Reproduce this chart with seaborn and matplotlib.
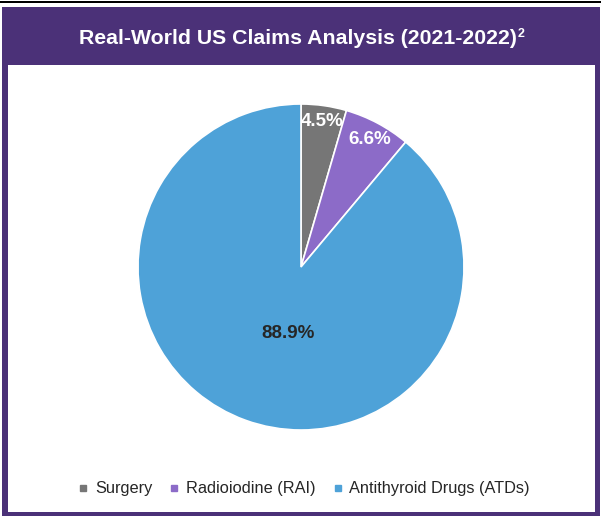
import matplotlib
matplotlib.use("Agg")
import matplotlib.pyplot as plt
import seaborn as sns
import numpy as np
from matplotlib.patches import Rectangle
from matplotlib.lines import Line2D

categories = ["Surgery", "Radioiodine (RAI)", "Antithyroid Drugs (ATDs)"]
values = [4.5, 6.6, 88.9]
colors = ["#767676", "#8C6BC8", "#4EA2D8"]
title = "Real-World US Claims Analysis (2021-2022)"
title_sup = "2"

sns.set_theme(style="white")
plt.rcParams["font.family"] = ["Liberation Sans", "DejaVu Sans"]

W, H = 603, 516
fig = plt.figure(figsize=(W / 100, H / 100), dpi=100)
fig.patch.set_facecolor("white")

purple = "#4B3178"
def px_rect(x0, y0, x1, y1, color, z):
    fig.patches.append(Rectangle((x0 / W, 1 - y1 / H), (x1 - x0) / W, (y1 - y0) / H,
                                 transform=fig.transFigure, facecolor=color,
                                 edgecolor="none", zorder=z))

# black top rule
px_rect(0, 1, 601, 3, "black", 0)
# purple frame
px_rect(2, 7, 600, 516, purple, 0)
# white inner panel
px_rect(8, 65, 595, 512, "white", 1)

fig.text(517 / W, 1 - 39 / H, title, color="white", fontsize=15.3, fontweight="bold",
         ha="right", va="center", zorder=3)
fig.text(518 / W, 1 - 34 / H, title_sup, color="white", fontsize=9, fontweight="bold",
         ha="left", va="center", zorder=3)

cx, cy, r = 301, 267, 163
ax = fig.add_axes([(cx - r) / W, 1 - (cy + r) / H, 2 * r / W, 2 * r / H])
ax.set_zorder(2)
wedges, texts, autotexts = ax.pie(values, colors=colors, startangle=90, counterclock=False,
                                  autopct="%1.1f%%", pctdistance=0.6,
                                  wedgeprops=dict(edgecolor="white", linewidth=1.2))
dists = [0.9, 0.89, 0.41]
tcolors = ["white", "white", "#262626"]
for i, (w, t, d, c) in enumerate(zip(wedges, autotexts, dists, tcolors)):
    ang = np.deg2rad((w.theta1 + w.theta2) / 2)
    x, y = d * np.cos(ang), d * np.sin(ang)
    if i == 2:
        x += 0.06
        y -= 0.02
    t.set_position((x, y))
    t.set_color(c)
    t.set_fontsize(13.5)
    t.set_fontweight("bold")
ax.set_xlim(-1, 1)
ax.set_ylim(-1, 1)
ax.set_aspect("equal")
ax.axis("off")

handles = [Line2D([], [], marker="s", linestyle="none", markersize=5,
                  markerfacecolor=c, markeredgecolor=c) for c in colors]
fig.legend(handles, categories, loc="center", bbox_to_anchor=(304 / W, 1 - 489 / H),
           ncol=3, frameon=False, fontsize=11.8, handlelength=0.6, handletextpad=0.4,
           columnspacing=1.05, labelcolor="#262626")

fig.savefig("out.png", dpi=100)
